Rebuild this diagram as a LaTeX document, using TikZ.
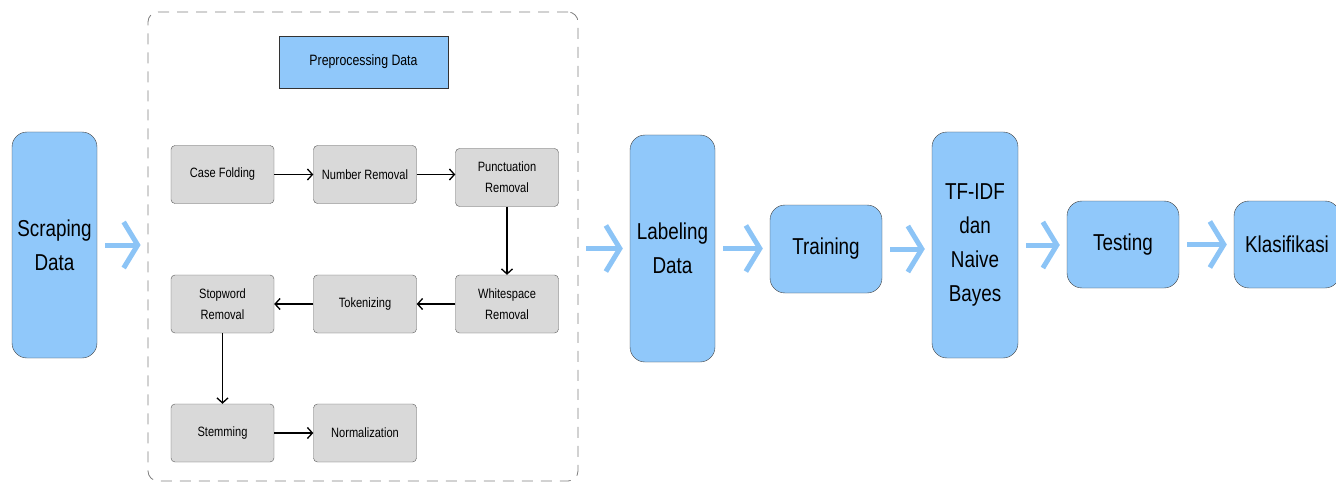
\documentclass[tikz,border=0pt]{standalone}
\usepackage{fontspec}
\setmainfont{Liberation Sans}[FakeStretch=0.82]
\usetikzlibrary{arrows.meta}
\definecolor{stageblue}{HTML}{90C8FA}
\definecolor{flowblue}{HTML}{8CC4F6}
\definecolor{stepgray}{HTML}{D9D9D9}
\begin{document}
\begin{tikzpicture}[x=1pt,y=-1pt,
    stage/.style={draw=black!75, fill=stageblue, rounded corners=15pt, align=center,
      inner sep=0pt, font=\fontsize{23}{34}\selectfont},
    substep/.style={draw=black!65, fill=stepgray, rounded corners=4pt, align=center,
      inner sep=0pt, minimum width=103pt, minimum height=58pt,
      font=\fontsize{13.5}{21}\selectfont},
    flow/.style={draw=flowblue, line width=5pt, shorten <=8pt, shorten >=7pt,
      -{Straight Barb[length=14pt,width=46pt]}},
    link/.style={draw=black, line width=1.3pt, -{Straight Barb[length=5pt,width=11pt]}}]
  \useasboundingbox (0,0) rectangle (1336,484);

  % main stages
  \node[stage, minimum width=85pt, minimum height=226pt] (scraping) at (54.5,245) {Scraping\\Data};
  \node[draw=black!50, line width=0.8pt, dash pattern=on 11pt off 8pt, rounded corners=10pt,
    minimum width=430pt, minimum height=469pt] (prepbox) at (363,246.5) {};
  \node[stage, minimum width=85pt, minimum height=227pt] (labeling) at (672.5,248.5) {Labeling\\Data};
  \node[stage, minimum width=112pt, minimum height=88pt] (training) at (826,249) {Training};
  \node[stage, minimum width=86pt, minimum height=226pt] (tfidf) at (975,245) {TF-IDF\\dan\\Naive\\Bayes};
  \node[stage, minimum width=112pt, minimum height=87pt] (testing) at (1123,244.5) {Testing};
  \node[stage, minimum width=106pt, minimum height=87pt] (klasifikasi) at (1287,244.5) {Klasifikasi};

  % preprocessing steps
  \node[draw=black!80, fill=stageblue, minimum width=169pt, minimum height=52pt,
    font=\fontsize{15}{17}\selectfont] (preptitle) at (363.5,62) {Preprocessing Data};
  \node[substep] (casefold) at (222.5,174.5) {Case Folding};
  \node[substep] (numrem) at (365,174.5) {Number Removal};
  \node[substep] (punct) at (507,177.5) {Punctuation\\Removal};
  \node[substep] (white) at (507,304) {Whitespace\\Removal};
  \node[substep] (token) at (365,304) {Tokenizing};
  \node[substep] (stopword) at (222.5,304) {Stopword\\Removal};
  \node[substep] (stem) at (222.5,433) {Stemming};
  \node[substep] (norm) at (365,433) {Normalization};

  \draw[link] (casefold) -- (numrem);
  \draw[link] (numrem.east) -- (numrem.east -| punct.west);
  \draw[link] (punct) -- (white);
  \draw[link] (white) -- (token);
  \draw[link] (token) -- (stopword);
  \draw[link] (stopword) -- (stem);
  \draw[link] (stem) -- (norm);

  % flow between stages
  \draw[flow] (scraping.east) -- (scraping.east -| prepbox.west);
  \draw[flow] (prepbox.east |- labeling.west) -- (labeling.west);
  \draw[flow] (labeling.east) -- (labeling.east -| training.west);
  \draw[flow] (training.east) -- (training.east -| tfidf.west);
  \draw[flow] (tfidf.east) -- (tfidf.east -| testing.west);
  \draw[flow] (testing.east) -- (testing.east -| klasifikasi.west);
\end{tikzpicture}
\end{document}
